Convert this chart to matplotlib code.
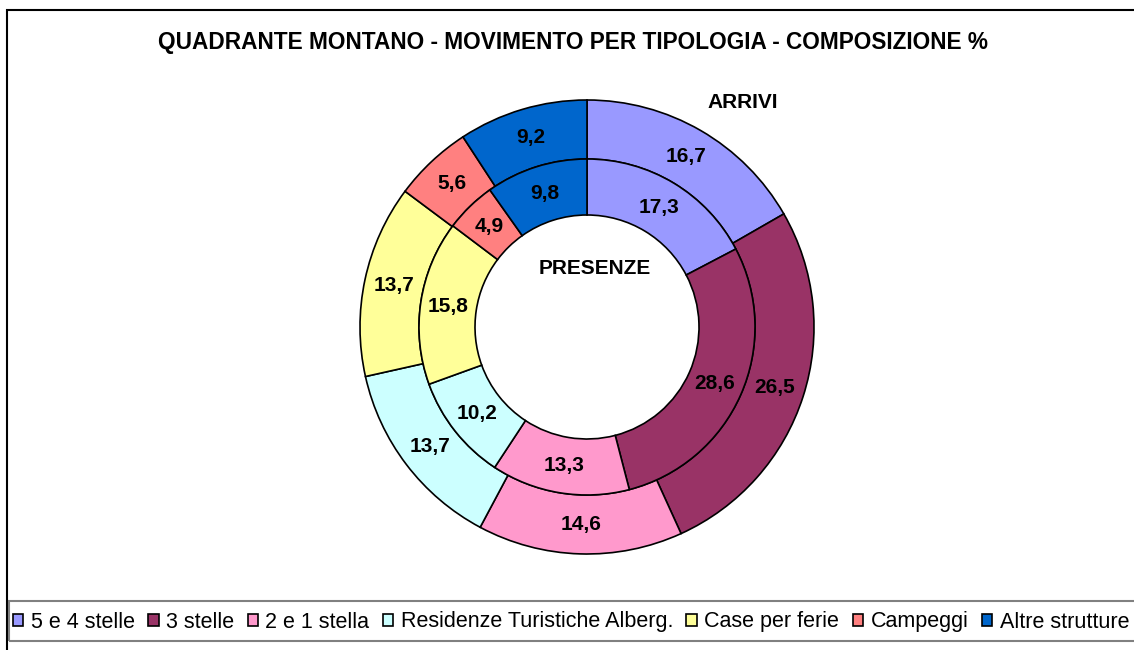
import matplotlib
matplotlib.use("Agg")
import matplotlib.pyplot as plt
from matplotlib.patches import Rectangle, Patch

categories = ["5 e 4 stelle", "3 stelle", "2 e 1 stella", "Residenze Turistiche Alberg.",
              "Case per ferie", "Campeggi", "Altre strutture"]
arrivi = [16.7, 26.5, 14.6, 13.7, 13.7, 5.6, 9.2]
presenze = [17.3, 28.6, 13.3, 10.2, 15.8, 4.9, 9.8]
colors = ["#9999FF", "#993366", "#FF99CC", "#CCFFFF", "#FFFF99", "#FF8080", "#0066CC"]
title = "QUADRANTE MONTANO - MOVIMENTO PER TIPOLOGIA - COMPOSIZIONE %"

W, H = 1134, 650
plt.rcParams['font.family'] = ['Liberation Sans', 'DejaVu Sans']
fig = plt.figure(figsize=(W / 100, H / 100), dpi=100)
ax = fig.add_axes([0, 0, 1, 1])

cx, cy = 587, H - 327
r_out, w_out = 227, 59
r_in, w_in = 168, 56

def fmt(v):
    return f"{v:.1f}".replace(".", ",")

lbl_font = dict(fontsize=15, fontweight='bold', color='black',
                horizontalalignment='center', verticalalignment='center')

ax.pie(arrivi, colors=colors, radius=r_out, center=(cx, cy), startangle=90,
       counterclock=False, labels=[fmt(v) for v in arrivi],
       labeldistance=(r_out - w_out / 2) / r_out, textprops=lbl_font,
       wedgeprops=dict(width=w_out, edgecolor='black', linewidth=1.2))
ax.pie(presenze, colors=colors, radius=r_in, center=(cx, cy), startangle=90,
       counterclock=False, labels=[fmt(v) for v in presenze],
       labeldistance=(r_in - w_in / 2) / r_in, textprops=lbl_font,
       wedgeprops=dict(width=w_in, edgecolor='black', linewidth=1.2))

ax.set_xlim(0, W)
ax.set_ylim(0, H)
ax.set_aspect('auto')
ax.axis('off')

ax.text(743, H - 102, "ARRIVI", fontsize=15, fontweight='bold', ha='center', va='center')
ax.text(595, H - 268, "PRESENZE", fontsize=15, fontweight='bold', ha='center', va='center')

fig.text(573 / W, 1 - 42 / H, title, fontsize=16.3, fontweight='bold', ha='center', va='center')

# outer chart border
ax.add_patch(Rectangle((7, -20), W + 20, H - 9.5 + 20, fill=False, edgecolor='black',
                       linewidth=1.5, clip_on=False))
# legend box
ax.add_patch(Rectangle((9, H - 641), W + 20, 40, fill=False, edgecolor='#808080',
                       linewidth=1.5, clip_on=False))

handles = [Patch(facecolor=c, edgecolor='black', linewidth=1.2) for c in colors]
fig.legend(handles, categories, ncol=7, loc='center left',
           bbox_to_anchor=(13 / W, 1 - 622 / H), frameon=False, fontsize=15.5,
           handlelength=0.48, handleheight=0.48, handletextpad=0.35, columnspacing=0.62,
           borderaxespad=0, borderpad=0)

fig.savefig("out.png", dpi=100)
